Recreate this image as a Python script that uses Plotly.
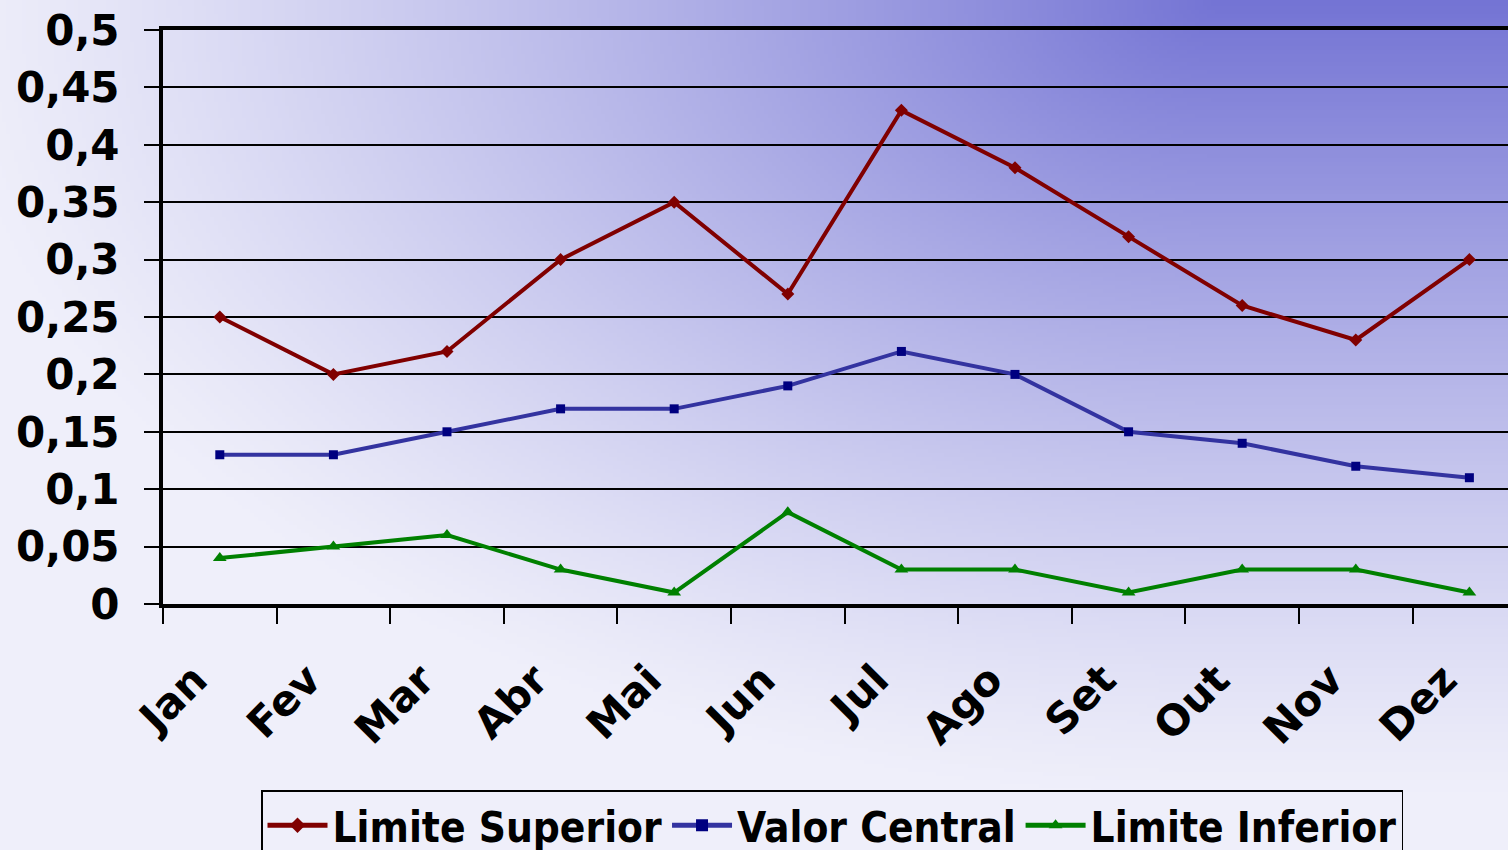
import zlib, struct, base64, math
import plotly.graph_objects as go

# ---------------- data ----------------
months = ["Jan", "Fev", "Mar", "Abr", "Mai", "Jun", "Jul", "Ago", "Set", "Out", "Nov", "Dez"]
limite_superior = [0.25, 0.20, 0.22, 0.30, 0.35, 0.27, 0.43, 0.38, 0.32, 0.26, 0.23, 0.30]
valor_central = [0.13, 0.13, 0.15, 0.17, 0.17, 0.19, 0.22, 0.20, 0.15, 0.14, 0.12, 0.11]
limite_inferior = [0.04, 0.05, 0.06, 0.03, 0.01, 0.08, 0.03, 0.03, 0.01, 0.03, 0.03, 0.01]
y_tickvals = [0, 0.05, 0.1, 0.15, 0.2, 0.25, 0.3, 0.35, 0.4, 0.45, 0.5]
y_ticktext = ["0", "0,05", "0,1", "0,15", "0,2", "0,25", "0,3", "0,35", "0,4", "0,45", "0,5"]

# ---------------- layout geometry ----------------
W, H = 1508, 850
ML, MR, MT, MB = 163, 0, 30, 246
PW, PH = W - ML - MR, H - MT - MB


# ---------------- background gradient (image) ----------------
def png_data_uri(w, h, fn):
    raw = bytearray()
    for j in range(h):
        raw.append(0)
        for i in range(w):
            raw += bytes(fn(i, j))

    def chunk(tag, data):
        c = struct.pack(">I", len(data)) + tag + data
        return c + struct.pack(">I", zlib.crc32(tag + data) & 0xFFFFFFFF)

    png = (b"\x89PNG\r\n\x1a\n"
           + chunk(b"IHDR", struct.pack(">IIBBBBB", w, h, 8, 2, 0, 0, 0))
           + chunk(b"IDAT", zlib.compress(bytes(raw), 9))
           + chunk(b"IEND", b""))
    return "data:image/png;base64," + base64.b64encode(png).decode()


SC = 4
DARK = (116, 116, 212)
LIGHT = (239, 239, 250)


def grad(i, j):
    X, Y = i * SC, j * SC
    dx = max(0.0, 1220 - X) / 1280.0
    dy = Y / 800.0
    d = min(1.0, math.hypot(dx, dy))
    f = (1 - d) ** 1.2
    return tuple(int(round(LIGHT[k] - (LIGHT[k] - DARK[k]) * f)) for k in range(3))


bg_uri = png_data_uri(W // SC + 1, H // SC + 1, grad)

# ---------------- figure ----------------
fig = go.Figure()
fig.add_trace(go.Scatter(
    x=months, y=limite_superior, name="Limite Superior", mode="lines+markers",
    line=dict(color="#800000", width=4),
    marker=dict(symbol="diamond", size=10, color="#800000"),
))
fig.add_trace(go.Scatter(
    x=months, y=valor_central, name="Valor Central", mode="lines+markers",
    line=dict(color="#3333a0", width=4),
    marker=dict(symbol="square", size=9, color="#000080"),
))
fig.add_trace(go.Scatter(
    x=months, y=limite_inferior, name="Limite Inferior", mode="lines+markers",
    line=dict(color="#008000", width=4),
    marker=dict(symbol="triangle-up", size=12, color="#008000"),
))

tick_font = dict(family="DejaVu Sans", size=42, color="black", weight="bold")

fig.update_layout(
    width=W, height=H,
    margin=dict(l=ML, r=MR, t=MT, b=MB, autoexpand=False),
    paper_bgcolor="#eeeef9",
    plot_bgcolor="rgba(0,0,0,0)",
    images=[dict(
        source=bg_uri, xref="paper", yref="paper",
        x=-ML / PW, y=1 + MT / PH, sizex=W / PW, sizey=H / PH,
        xanchor="left", yanchor="top", sizing="stretch", layer="below",
    )],
    xaxis=dict(
        type="category", range=[-0.5, 11.34],
        tickson="boundaries", ticks="outside", ticklen=16, tickwidth=1.5, tickcolor="black",
        showgrid=False, showline=True, linecolor="black", linewidth=4, mirror=True,
        tickangle=-45, tickfont=tick_font, ticklabelstandoff=30, ticklabelshift=-25,
    ),
    yaxis=dict(
        range=[0, 0.5], tickvals=y_tickvals, ticktext=y_ticktext,
        ticks="outside", ticklen=15, tickwidth=1.5, tickcolor="black",
        showgrid=True, gridcolor="black", gridwidth=1.5,
        showline=True, linecolor="black", linewidth=4, mirror=False,
        zeroline=False, tickfont=tick_font, ticklabelstandoff=16,
    ),
    showlegend=True,
    legend=dict(
        orientation="h", x=(261 - ML) / PW, y=(604 - 790) / PH,
        xanchor="left", yanchor="top",
        bgcolor="rgba(0,0,0,0)", bordercolor="black", borderwidth=1.5,
        font=dict(family="DejaVu Sans Condensed, DejaVu Sans", size=42, color="black", weight="bold"),
        itemsizing="constant", itemwidth=60, tracegroupgap=0,
    ),
)

fig.write_html(
    "out.html",
    config={"displayModeBar": False},
    post_script="document.body.style.margin='0';document.body.style.overflow='hidden';",
)
